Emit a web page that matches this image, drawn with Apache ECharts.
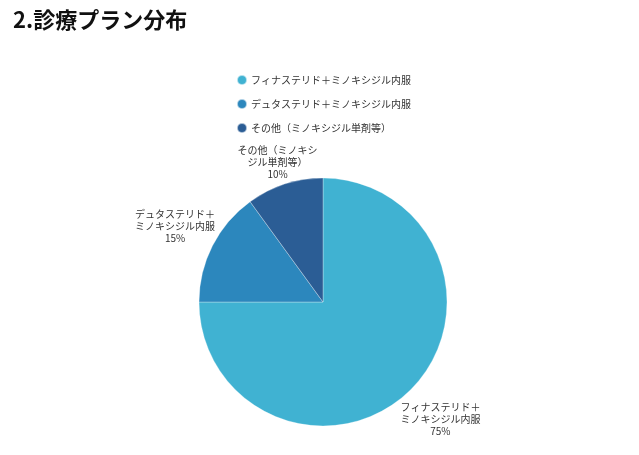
<!DOCTYPE html>
<html>
<head>
<meta charset="utf-8">
<script src="https://cdn.jsdelivr.net/npm/echarts@6/dist/echarts.min.js"></script>
<style>
html,body{margin:0;padding:0;background:#fff;}
#chart{width:639px;height:455px;}
</style>
</head>
<body>
<div id="chart"></div>
<script>
var titleText = '2.診療プラン分布';
var categories = ['フィナステリド＋ミノキシジル内服', 'デュタステリド＋ミノキシジル内服', 'その他（ミノキシジル単剤等）'];
var labelNames = ['フィナステリド＋\nミノキシジル内服', 'デュタステリド＋\nミノキシジル内服', 'その他（ミノキシ\nジル単剤等）'];
var values = [75, 15, 10];
var colors = ['#40b2d2', '#2c87bd', '#2b5d95'];
var lineLengths = [42, 42, 23];

var font = '"Noto Sans CJK JP", "Noto Sans", sans-serif';
var chart = echarts.init(document.getElementById('chart'));
var data = categories.map(function (c, i) {
  return {
    name: c,
    value: values[i],
    itemStyle: { color: colors[i] },
    labelLine: { show: false, length: lineLengths[i], length2: 0 }
  };
});
chart.setOption({
  animation: false,
  title: {
    text: titleText,
    left: 8,
    top: 4,
    textStyle: { fontFamily: font, fontSize: 22, fontWeight: 'bold', color: '#111' }
  },
  legend: {
    orient: 'vertical',
    left: 231,
    top: 69,
    icon: 'circle',
    itemWidth: 10,
    itemHeight: 10,
    itemGap: 12,
    data: categories,
    textStyle: { fontFamily: font, fontSize: 10, color: '#333', padding: [0, 0, 0, -1] }
  },
  series: [{
    type: 'pie',
    center: [323, 302],
    radius: 124,
    startAngle: 90,
    clockwise: true,
    avoidLabelOverlap: false,
    data: data,
    itemStyle: { borderColor: 'rgba(255,255,255,0.6)', borderWidth: 0.5 },
    label: {
      show: true,
      position: 'outside',
      distanceToLabelLine: 0,
      fontFamily: font,
      fontSize: 10,
      lineHeight: 12,
      color: '#333',
      formatter: function (p) { return labelNames[p.dataIndex] + '\n' + p.value + '%'; }
    },
    labelLayout: function () { return { align: 'center' }; },
    emphasis: { disabled: true }
  }]
});
</script>
</body>
</html>
